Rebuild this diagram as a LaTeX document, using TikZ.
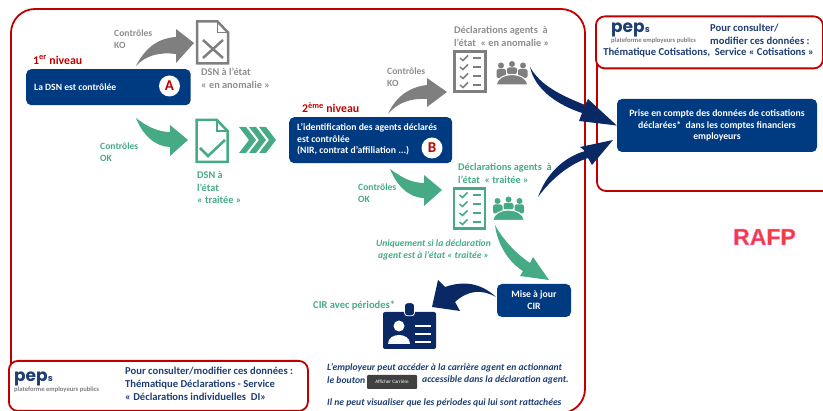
\documentclass[tikz,border=0pt]{standalone}
\usepackage{fontspec}
\setmainfont{Carlito}
\newfontfamily\logofont{Poppins}
\newfontfamily\rafpfont{Liberation Sans}
\usetikzlibrary{calc,positioning}
\definecolor{framered}{HTML}{C00000}
\definecolor{boxblue}{HTML}{003A80}
\definecolor{arrownavy}{HTML}{0A2864}
\definecolor{kogray}{HTML}{7F7F7F}
\definecolor{kotext}{HTML}{8E8E8E}
\definecolor{okgreen}{HTML}{46AB85}
\definecolor{peptext}{HTML}{1F3F73}
\definecolor{rafpred}{HTML}{F23C3C}
\tikzset{
	frame box/.style={draw=framered,line width=1.8pt,rounded corners=9pt},
	blue box/.style={fill=boxblue,rounded corners=5pt,text=white,font=\fontsize{9.7}{11.8}\selectfont\bfseries,inner sep=0pt},
	badge dot/.style={circle,fill=white,minimum size=21pt,inner sep=0pt,text=framered,font=\fontsize{15}{15}\selectfont\bfseries},
	level/.style={text=framered,font=\fontsize{11.8}{12}\selectfont\bfseries,inner sep=0pt},
	ko label/.style={text=kotext,align=left,anchor=west,inner sep=0pt,font=\fontsize{9.6}{12.2}\selectfont\bfseries},
	ok label/.style={ko label,text=okgreen},
	ko state/.style={ko label,font=\fontsize{10.3}{12.6}\selectfont\bfseries},
	ok state/.style={ko state,text=okgreen},
	pep text/.style={text=peptext,align=left,anchor=west,inner sep=0pt,font=\fontsize{10.6}{13}\selectfont\bfseries},
	note/.style={text=peptext,anchor=west,inner sep=0pt,font=\fontsize{9.65}{12}\selectfont\bfseries\itshape},
	pep word/.style={text=peptext,inner sep=0pt,font=\fontsize{17}{17}\logofont\bfseries},
	pep sub/.style={text=kogray,inner sep=0pt,font=\fontsize{6.6}{7}\selectfont\bfseries},
	list sheet/.style={draw,line width=2.4pt,minimum width=31pt,minimum height=40pt,inner sep=0pt},
	icon spot/.style={minimum width=32pt,minimum height=22pt,inner sep=0pt},
}
% sheet of paper with a folded corner
\newcommand{\docsheet}[2]{
	\draw[#2,line width=2.5pt,shift={(#1.center)}] (-15.5,-21) -- (5,-21) -- (15.5,-10) -- (15.5,21) -- (-15.5,21) -- cycle;
	\draw[#2,line width=1.6pt,shift={(#1.center)}] (5,-21) -- (5,-10) -- (15.5,-10);
}
% ticks and bars of a list
\newcommand{\listrows}[2]{
	\foreach \rowy in {-13.5,-4.5,4.5,13.5}{
		\draw[#2,line width=1.5pt,shift={(#1.center)}] (-10,\rowy) -- (-7,\rowy+2.5) -- (-2,\rowy-2.5);
		\draw[#2,line width=1.5pt,shift={(#1.center)}] (3,\rowy) -- (11,\rowy);
	}
}
% three people round a table
\newcommand{\peoplegroup}[2]{
	\begin{scope}[shift={(#1.center)}]
		\fill[#2] (-11,-8.5) circle (3pt) (0,-10) circle (3pt) (11,-8.5) circle (3pt);
		\fill[#2,rounded corners=2pt] (-15.5,-5) rectangle (-6,4);
		\fill[#2,rounded corners=2pt] (6,-5) rectangle (15.5,4);
		\fill[#2,rounded corners=2pt] (-5,-6.5) rectangle (5,0);
		\fill[#2,draw=white,line width=1pt] (-16,11) .. controls (-14,-3) and (14,-3) .. (16,11) -- cycle;
	\end{scope}
}
\newcommand{\peplogo}[3]{
	\node[pep word,anchor=west] (#1) at (#2,#3) {pep\raisebox{0pt}{\fontsize{9}{9}\selectfont s}};
	\node[pep sub,anchor=north west] (#1sub) at ($(#1.south west)+(0,.5)$) {plateforme employeurs publics};
}

\begin{document}
\begin{tikzpicture}[x=1pt,y=-1pt]
	\useasboundingbox (0,0) rectangle (823,411);
	
	% frames
	\draw[frame box,rounded corners=24pt] (11,9) rectangle (585,413);
	\draw[frame box] (597,40) rectangle (850,191);
	\node[frame box,fill=white,minimum width=227pt,minimum height=52pt,anchor=north west,inner sep=0pt] (toppep) at (595,15.5) {};
	\node[frame box,fill=white,minimum width=299pt,minimum height=50pt,anchor=north west,inner sep=0pt] (botpep) at (8,360) {};
	
	% first level
	\node[level,anchor=west] (levelA) at (33,60) {1\textsuperscript{er} niveau};
	\node[blue box,minimum width=164.5pt,minimum height=36pt,anchor=north west] (boxA) at (26,69) {};
	\node[text=white,anchor=west,inner sep=0pt,font=\fontsize{9.6}{10}\selectfont\bfseries] (textA) at (34,87) {La DSN est contrôlée};
	\node[badge dot] (dotA) at (169.5,86) {A};
	
	\node[ko label] (koA) at (114,39) {Contrôles\\KO};
	\node[icon spot,minimum width=31pt,minimum height=42pt] (docko) at (212.5,42.5) {};
	\docsheet{docko}{kogray}
	\draw[kogray,line width=2.5pt] ($(docko.center)+(-9.5,-2.5)$) -- ($(docko.center)+(10.5,15.5)$) ($(docko.center)+(-9.5,15.5)$) -- ($(docko.center)+(10.5,-2.5)$);
	\node[ko state] (docA) at (201,78) {DSN à l’état\\« en anomalie »};
	
	\node[ok label] (okA) at (100,152) {Contrôles\\OK};
	\node[icon spot,minimum width=31pt,minimum height=42pt] (docok) at (212,141) {};
	\docsheet{docok}{okgreen}
	\draw[okgreen,line width=2.6pt] ($(docok.center)+(-12,7)$) -- ($(docok.center)+(-4,15)$) -- ($(docok.center)+(13,-1)$);
	\node[ok state] (docB) at (197,187.5) {DSN à\\l’état\\« traitée »};
	\foreach \chev in {0,1,2}{
		\fill[okgreen,shift={(239+10*\chev,140)}] (0,-13) -- (7,-13) -- (17,0) -- (7,13) -- (0,13) -- (10,0) -- cycle;
	}
	
	% second level
	\node[level,anchor=west] (levelB) at (302,108) {2\textsuperscript{ème} niveau};
	\node[blue box,minimum width=163pt,minimum height=46pt,anchor=north west] (boxB) at (289,117) {};
	\node[text=white,anchor=west,align=left,inner sep=0pt,font=\fontsize{9.7}{11.6}\selectfont\bfseries] (textB) at (297,139.5) {L’identification des agents déclarés\\est contrôlée\\(NIR, contrat d’affiliation ...)};
	\node[badge dot] (dotB) at (432,148) {B};
	
	\node[ko label] (koB) at (387,77.5) {Contrôles\\KO};
	\node[ko state] (declko) at (454,36.5) {Déclarations agents~~à\\l’état~~« en anomalie »};
	\node[list sheet,draw=kogray] (listko) at (470,71.5) {};
	\listrows{listko}{kogray}
	\node[icon spot] (peopleko) at (512,74) {};
	\peoplegroup{peopleko}{kogray}
	
	\node[ok label] (okB) at (358,193) {Contrôles\\OK};
	\node[ok state] (declok) at (458,173.5) {Déclarations agents~~à\\l’état~~« traitée »};
	\node[list sheet,draw=okgreen] (listok) at (469.5,208.5) {};
	\listrows{listok}{okgreen}
	\node[icon spot] (peopleok) at (508.5,209.5) {};
	\peoplegroup{peopleok}{okgreen}
	\node[ok label,anchor=center,align=center,font=\fontsize{9.6}{12}\selectfont\bfseries\itshape] (onlyif) at (433.5,250) {Uniquement si la déclaration\\agent est à l’état « traitée »};
	
	% career
	\node[blue box,align=center,minimum width=74pt,minimum height=33pt] (cirbox) at (534,300.5) {Mise à jour\\CIR};
	\node[ok label,font=\fontsize{10.5}{12}\selectfont\bfseries] (cirtext) at (313,306) {CIR avec périodes*};
	\node[fill=arrownavy,rounded corners=2pt,minimum width=53pt,minimum height=37pt,inner sep=0pt] (badge) at (409.5,330.5) {};
	\draw[fill=arrownavy,draw=white,line width=.8pt,rounded corners=3pt] ($(badge.north)+(-5,-9)$) rectangle ($(badge.north)+(5,4)$);
	\fill[white] ($(badge.center)+(-10.5,-4.5)$) circle (5.5pt);
	\fill[white] ($(badge.center)+(-21.5,13.5)$) .. controls ($(badge.center)+(-21.5,2)$) and ($(badge.center)+(.5,2)$) .. ($(badge.center)+(.5,13.5)$) -- cycle;
	\foreach \bary in {-4.5,3.5,11.5}{
		\draw[white,line width=1.3pt] ($(badge.center)+(5.5,\bary)$) -- ($(badge.center)+(21.5,\bary)$);
	}
	
	% right part
	\node[blue box,align=center,minimum width=200pt,minimum height=53pt] (account) at (717,125.5) {Prise en compte des données de cotisations\\déclarées*~~dans les comptes financiers\\employeurs};
	\node[inner sep=0pt,text=rafpred,font=\fontsize{23}{23}\rafpfont\bfseries] (rafp) at (764.5,237) {\special{pdf:code 2 Tr 0.5 w 1 0.45 0.8 RG}RAFP\special{pdf:code 0 Tr}};
	
	% pep boxes
	\peplogo{logotop}{611}{29.5}
	\node[pep text] (toptext) at (710,34.5) {Pour consulter/\\modifier ces données :};
	\node[pep text,anchor=center] (toptwo) at (708.5,53) {Thématique Cotisations,~~Service « Cotisations »};
	\peplogo{logobot}{14}{379}
	\node[pep text] (bottext) at (125,384) {Pour consulter/modifier ces données :\\Thématique Déclarations - Service\\« Déclarations individuelles~~DI»};
	
	% notes
	\node[note] (noteone) at (327,368) {L’employeur peut accéder à la carrière agent en actionnant};
	\node[note] (notetwo) at (327,380) {le bouton};
	\node[fill=black!75,rounded corners=1pt,minimum width=50pt,minimum height=14pt,inner sep=0pt,text=white,font=\fontsize{5}{6}\selectfont] (btncareer) at (392,382) {Afficher Carrière};
	\node[note] (notethree) at (422,380) {accessible dans la déclaration agent.};
	\node[note] (notefour) at (327,403) {Il ne peut visualiser que les périodes qui lui sont rattachées};
	
	% arrow tails and tips
	\coordinate (tailA) at (136,66);
	\coordinate (tipA) at (194,43);
	\coordinate (tailAok) at (136,118);
	\coordinate (tipAok) at (188,140);
	\coordinate (tailB) at (388,114);
	\coordinate (tipB) at (447,92);
	\coordinate (tailBok) at (390,169);
	\coordinate (tipBok) at (442,190);
	\coordinate (tailcir) at (495,225);
	\coordinate (tipcir) at (549,280);
	\coordinate (tailback) at (496,297);
	\coordinate (tipback) at (432,307);
	\coordinate (tailko) at (530,67);
	\coordinate (tailok) at (538,197);
	\coordinate (tipok) at (613,140);
	
	\fill[kogray] (tailA) .. controls (146,46) and (160,38) .. (176,37) -- (176,29) -- (tipA) -- (176,63) -- (176,54) .. controls (160,52) and (146,55) .. cycle;
	\fill[okgreen] (tailAok) .. controls (146,126) and (158,132) .. (170,132) -- (170,125) -- (tipAok) -- (170,156) -- (170,147) .. controls (155,147) and (142,134) .. cycle;
	\fill[kogray] (tailB) .. controls (396,96) and (410,87) .. (427,85) -- (427,78) -- (tipB) -- (427,107) -- (427,99) .. controls (412,98) and (398,102) .. cycle;
	\fill[okgreen] (tailBok) .. controls (400,176) and (410,183) .. (424,183) -- (424,175) -- (tipBok) -- (424,206) -- (424,198) .. controls (408,198) and (396,184) .. cycle;
	\fill[okgreen] (tailcir) .. controls (502,238) and (515,253) .. (530,263) -- (533,257) -- (tipcir) -- (520,276) -- (523,271) .. controls (508,262) and (497,243) .. cycle;
	\fill[arrownavy] (tailback) .. controls (480,282) and (462,281) .. (445,287) -- (438,280) -- (tipback) -- (460,311) -- (455,302) .. controls (468,290) and (482,289) .. cycle;
	\fill[arrownavy] (tailko) .. controls (540,85) and (560,95) .. (585,105) -- (588,99) -- (account.west) -- (579,121) -- (582,113) .. controls (558,105) and (535,90) .. cycle;
	\fill[arrownavy] (tailok) .. controls (546,175) and (562,158) .. (585,151) -- (580,147) -- (tipok) -- (592,165) -- (588,158) .. controls (570,164) and (552,178) .. cycle;
\end{tikzpicture}
\end{document}
